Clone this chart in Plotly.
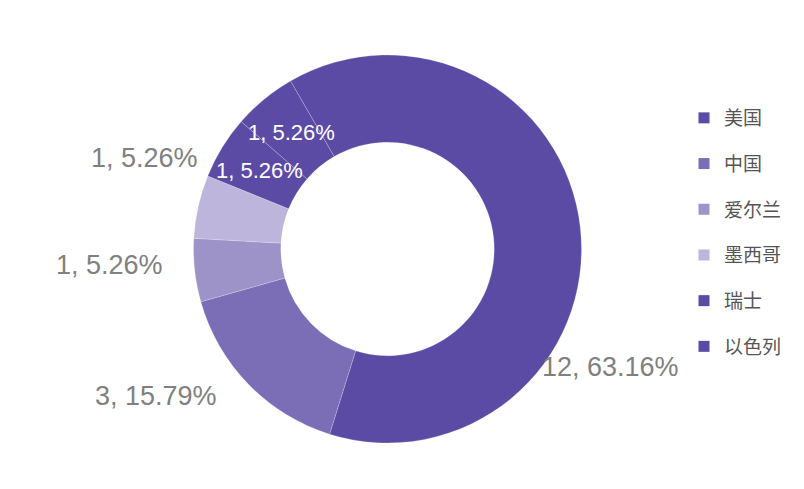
import math
import plotly.graph_objects as go

# ---- data ----
countries = ["美国", "中国", "爱尔兰", "墨西哥", "瑞士", "以色列"]
counts = [12, 3, 1, 1, 1, 1]

# ---- styles ----
colors = ["#5c4ba5", "#7b6db6", "#9d93c8", "#bdb5dc", "#5c4ba5", "#5c4ba5"]
inside_label = [False, False, False, False, True, True]
# outside label placement (label-layout nudges): extra angle (deg) and radius (px)
label_dangle = [34.3, 11.8, 3.0, 8.0, 0, 0]
label_radius = [252.5, 274.0, 278.5, 259.5, 0, 0]
FONT = "Liberation Sans, Noto Sans CJK SC, sans-serif"
W, H = 804, 489
ROTATION = -30
HOLE = 0.55
DOM_X = [185.5 / W, 573.5 / W]
DOM_Y = [54 / H, 442 / H]

total = sum(counts)
label_texts = [f"{v}, {v / total * 100:.2f}%" for v in counts]

fig = go.Figure()

fig.add_trace(go.Pie(
    labels=countries,
    values=counts,
    hole=HOLE,
    sort=False,
    direction="clockwise",
    rotation=ROTATION,
    marker=dict(colors=colors, line=dict(color="rgba(255,255,255,0.35)", width=0.6)),
    textinfo="none",
    domain=dict(x=DOM_X, y=DOM_Y),
    showlegend=False,
    hoverinfo="label+value+percent",
))

# data labels, placed around the slice mid-angles
cx = (DOM_X[0] + DOM_X[1]) / 2 * W
cy = (1 - (DOM_Y[0] + DOM_Y[1]) / 2) * H
R = (DOM_Y[1] - DOM_Y[0]) * H / 2
cum = 0
for v, txt, ins, da, rr in zip(counts, label_texts, inside_label, label_dangle, label_radius):
    mid = ROTATION + (cum + v / 2) / total * 360
    cum += v
    if ins:
        ang = math.radians(mid)
        rad = R * (1 + HOLE) / 2
        font = dict(family=FONT, size=22, color="#ffffff")
    else:
        ang = math.radians(mid + da)
        rad = rr
        font = dict(family=FONT, size=27, color="#808080")
    px = cx + rad * math.sin(ang)
    py = cy - rad * math.cos(ang)
    fig.add_annotation(
        x=px / W, y=1 - py / H, xref="paper", yref="paper",
        text=txt, showarrow=False, xanchor="center", yanchor="middle",
        font=font,
    )

# legend entries (one per category)
for name, col in zip(countries, colors):
    fig.add_trace(go.Scatter(
        x=[None], y=[None], mode="markers", name=name,
        legendgroup=name,
        marker=dict(symbol="square", size=11, color=col),
        hoverinfo="skip",
    ))

fig.update_layout(
    width=W, height=H,
    margin=dict(l=0, r=0, t=0, b=0),
    paper_bgcolor="white", plot_bgcolor="white",
    xaxis=dict(visible=False), yaxis=dict(visible=False),
    legend=dict(
        x=676 / W, xanchor="left", y=1 - 91 / H, yanchor="top",
        font=dict(family="Noto Sans CJK SC, sans-serif", size=19, color="#555555"),
        tracegroupgap=18, bgcolor="rgba(0,0,0,0)",
    ),
)

fig.write_html("out.html")
